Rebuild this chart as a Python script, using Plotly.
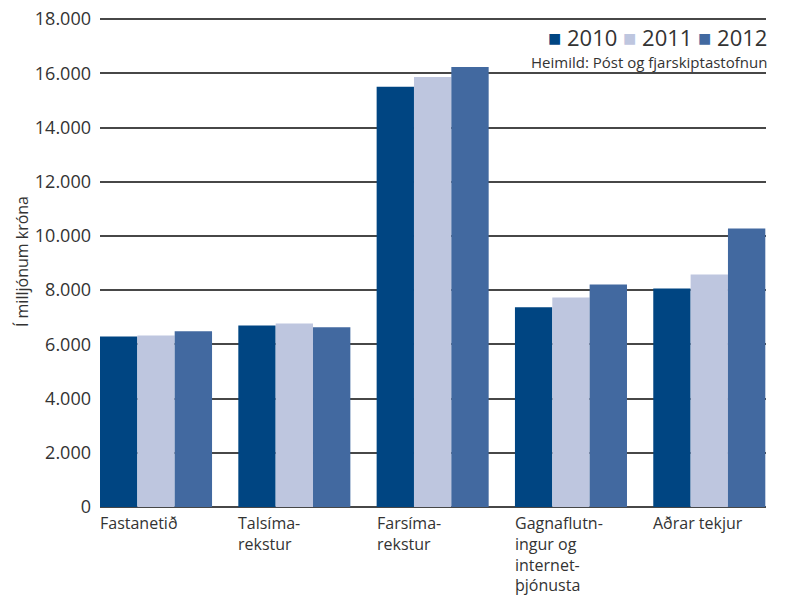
import plotly.graph_objects as go

categories = ["Fastanetið", "Talsíma-<br>rekstur", "Farsíma-<br>rekstur",
              "Gagnaflutn-<br>ingur og<br>internet-<br>þjónusta", "Aðrar tekjur"]
years = ["2010", "2011", "2012"]
values_2010 = [6290, 6700, 15500, 7370, 8060]
values_2011 = [6330, 6770, 15860, 7730, 8580]
values_2012 = [6480, 6630, 16230, 8210, 10270]
y_ticks = [0, 2000, 4000, 6000, 8000, 10000, 12000, 14000, 16000, 18000]
source_text = "Heimild: Póst og fjarskiptastofnun"
y_title = "Í milljónum króna"

colors = ["#004582", "#bec6df", "#4269a0"]
series = [values_2010, values_2011, values_2012]

font_family = "Open Sans, Noto Sans, sans-serif"
text_color = "#333333"

fig = go.Figure()
idx = list(range(len(categories)))
for name, vals, col in zip(years, series, colors):
    fig.add_trace(go.Bar(x=idx, y=vals, name=name, showlegend=False,
                         marker=dict(color=col, line=dict(width=0))))

# category labels, left aligned at each group's left edge
for i, lab in enumerate(categories):
    fig.add_annotation(x=i - 0.405, y=0, xref="x", yref="y", text=lab, showarrow=False,
                       xanchor="left", yanchor="top", align="left", yshift=-3, xshift=-2,
                       font=dict(family=font_family, size=16, color=text_color))

# y-axis title
fig.add_annotation(x=-0.117, y=0.501, xref="paper", yref="paper", text=y_title,
                   showarrow=False, textangle=-90, xanchor="center", yanchor="middle",
                   font=dict(family=font_family, size=16, color=text_color))

# legend (built from the series names and colours)
legend_html = "&nbsp;".join(
    f"<span style='color:{c}'>■</span>&nbsp;{y}" for y, c in zip(years, colors))
fig.add_annotation(x=1.0, y=0.961, xref="paper", yref="paper", text=legend_html,
                   showarrow=False, xanchor="right", yanchor="middle", xshift=2,
                   borderpad=0,
                   font=dict(family=font_family, size=22, color=text_color))

fig.add_annotation(x=1.0, y=0.91, xref="paper", yref="paper",
                   text=source_text, showarrow=False, xanchor="right", yanchor="middle",
                   xshift=2, borderpad=0,
                   font=dict(family=font_family, size=15, color=text_color))

fig.update_layout(
    width=780, height=595,
    margin=dict(l=92, r=22, t=10, b=96, autoexpand=False),
    paper_bgcolor="white", plot_bgcolor="white",
    separators=",.",
    barmode="group", bargap=0.19, bargroupgap=0,
    font=dict(family=font_family, color=text_color),
    showlegend=False,
    xaxis=dict(range=[-0.405, 4.41], showticklabels=False, showgrid=False,
               zeroline=False, showline=False, ticks="", fixedrange=True,
               automargin=False),
    yaxis=dict(range=[0, 18040], tickvals=y_ticks, tickformat=",d",
               showgrid=True, gridcolor="#474747", gridwidth=1.5,
               zeroline=True, zerolinecolor="#474747", zerolinewidth=1.5,
               showline=False, ticks="", ticklabelstandoff=8,
               ticklabeloverflow="allow", automargin=False,
               tickfont=dict(family=font_family, size=18, color=text_color)),
)

fig.write_html("out.html")
